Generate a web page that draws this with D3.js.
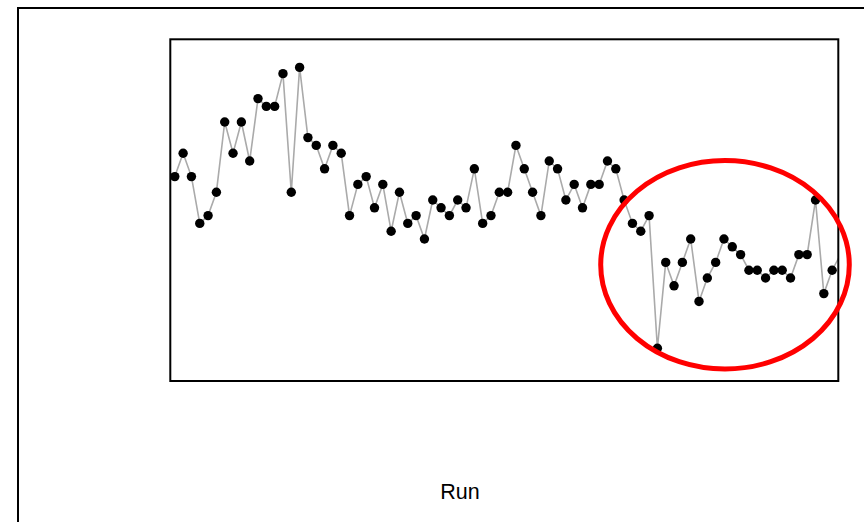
<!DOCTYPE html>
<html>
<head>
<meta charset="utf-8">
<script src="https://cdn.jsdelivr.net/npm/d3@7"></script>
<style>
  html, body { margin: 0; padding: 0; background: #fff; }
  svg { display: block; }
</style>
</head>
<body>
<div id="chart"></div>
<script>
const runs = d3.range(81);
const values = [22, 25, 22, 16, 17, 20, 29, 25, 29, 24,
                32, 31, 31, 35.2, 20, 36, 27, 26, 23, 26,
                25, 17, 21, 22, 18, 21, 15, 20, 16, 17,
                14, 19, 18, 17, 19, 18, 23, 16, 17, 20,
                20, 26, 23, 20, 17, 24, 23, 19, 21, 18,
                21, 21, 24, 23, 19, 16, 15, 17, 0, 11,
                8, 11, 14, 6, 9, 11, 14, 13, 12, 10,
                10, 9, 10, 10, 9, 12, 12, 19, 7, 10,
                12];
const xLabel = "Run";

const W = 864, H = 522;
const box = { left: 170.3, top: 39.3, right: 838.3, bottom: 381 };

const svg = d3.select("#chart").append("svg")
  .attr("width", W).attr("height", H);

// outer frame
svg.append("rect")
  .attr("x", 18).attr("y", 8)
  .attr("width", 900).attr("height", 600)
  .attr("fill", "none").attr("stroke", "#000").attr("stroke-width", 2);

const x = d3.scaleLinear().domain([-0.54, 79.74]).range([box.left, box.right]);
const y = d3.scaleLinear().domain([-4.2, 39.6]).range([box.bottom, box.top]);

svg.append("clipPath").attr("id", "clip")
  .append("rect")
  .attr("x", box.left).attr("y", box.top)
  .attr("width", box.right - box.left).attr("height", box.bottom - box.top);

const data = runs.map((r, i) => ({ r, v: values[i] }));

const g = svg.append("g").attr("clip-path", "url(#clip)");

g.append("path")
  .datum(data)
  .attr("fill", "none")
  .attr("stroke", "#aaaaaa")
  .attr("stroke-width", 1.6)
  .attr("d", d3.line().x(d => x(d.r)).y(d => y(d.v)));

// only points whose centre lies inside the plot region are drawn
const xMax = x.domain()[1];
g.selectAll("circle").data(data.filter(d => d.r <= xMax)).join("circle")
  .attr("cx", d => x(d.r))
  .attr("cy", d => y(d.v))
  .attr("r", 4.7)
  .attr("fill", "#000");

// plot box
svg.append("rect")
  .attr("x", box.left).attr("y", box.top)
  .attr("width", box.right - box.left).attr("height", box.bottom - box.top)
  .attr("fill", "none").attr("stroke", "#000").attr("stroke-width", 2);

// x label
svg.append("text")
  .attr("x", 460).attr("y", 499)
  .attr("text-anchor", "middle")
  .attr("font-family", "Liberation Sans, Arial, sans-serif")
  .attr("font-size", 21.5)
  .attr("fill", "#000")
  .text(xLabel);

// red highlight ellipse around the last runs
svg.append("ellipse")
  .attr("cx", 725).attr("cy", 264.8)
  .attr("rx", 124.3).attr("ry", 104.2)
  .attr("fill", "none")
  .attr("stroke", "#ff0000")
  .attr("stroke-width", 5);
</script>
</body>
</html>
